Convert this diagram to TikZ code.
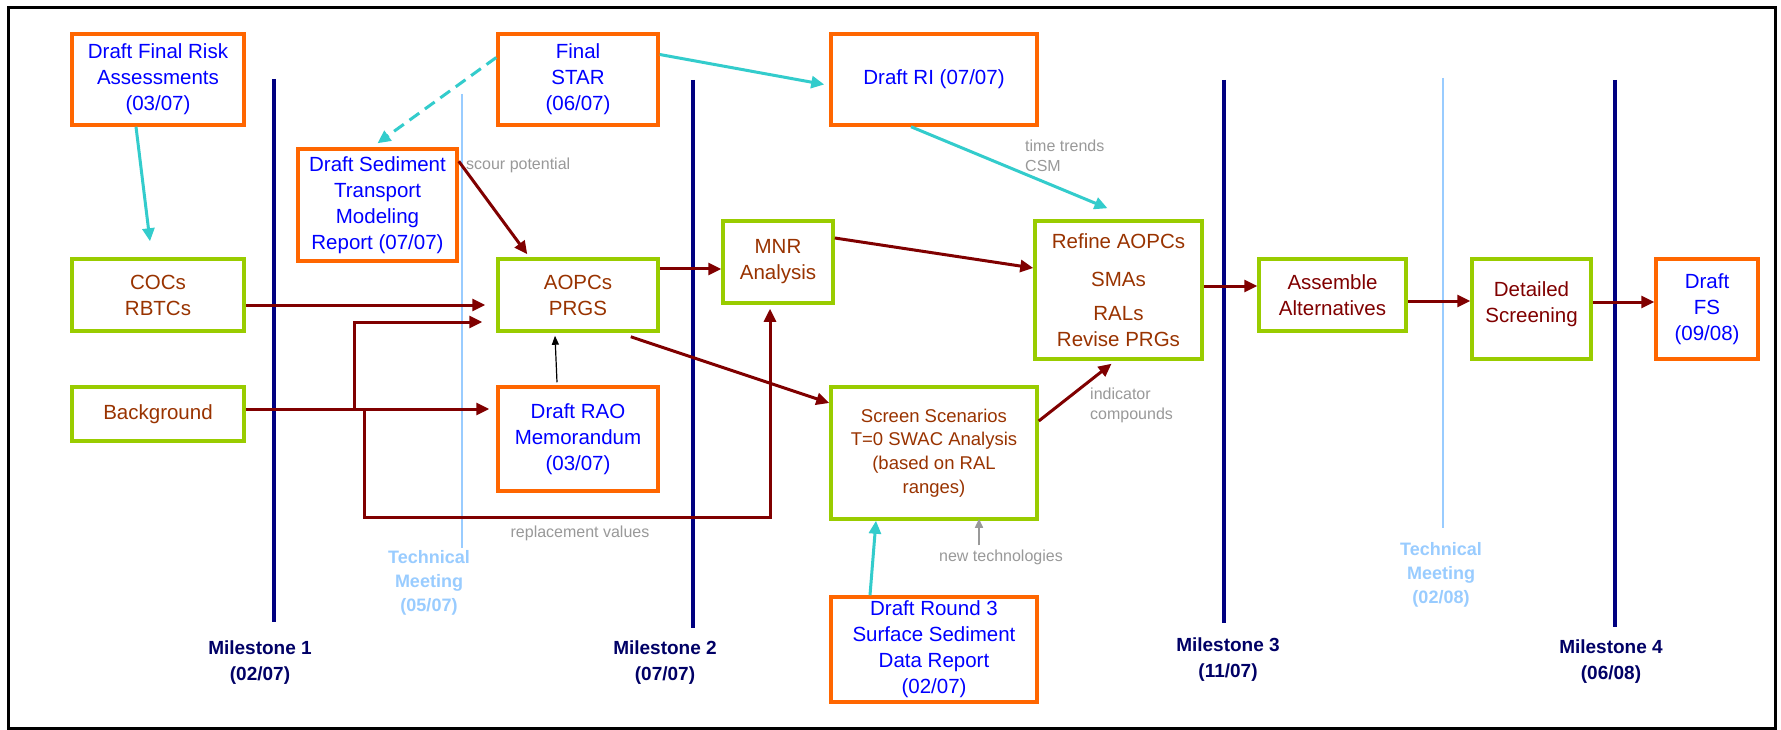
\documentclass[tikz,border=0pt]{standalone}
\usepackage{fontspec}
\setmainfont{Liberation Sans}
\usetikzlibrary{arrows.meta,calc}
\definecolor{orangeb}{HTML}{FF6600}
\definecolor{greenb}{HTML}{99CC00}
\definecolor{bluet}{HTML}{0000FF}
\definecolor{brownt}{HTML}{993300}
\definecolor{darkred}{HTML}{800000}
\definecolor{cyanl}{HTML}{33CCCC}
\definecolor{navyl}{HTML}{000080}
\definecolor{navyt}{HTML}{000066}
\definecolor{techc}{HTML}{99CCFF}
\definecolor{grayt}{HTML}{999999}
\begin{document}
\begin{tikzpicture}[x=1pt,y=-1pt,
 doc/.style={draw=orangeb, line width=3.5pt, text=bluet, align=center, inner sep=0pt, font=\fontsize{20.5}{26}\selectfont},
 task/.style={draw=greenb, line width=3.5pt, text=brownt, align=center, inner sep=0pt, font=\fontsize{20.5}{26}\selectfont},
 flow/.style={draw=darkred, line width=3pt, -{Triangle[length=13pt,width=12pt]}},
 link/.style={draw=cyanl, line width=3pt, -{Triangle[length=13pt,width=12pt]}},
 thin/.style={draw=black, line width=1.2pt, -{Triangle[length=9pt,width=7pt]}},
 grayarrow/.style={draw=grayt, line width=1.5pt, -{Triangle[length=9pt,width=8pt]}},
 mline/.style={draw=navyl, line width=3.5pt},
 tline/.style={draw=techc, line width=1.3pt},
 mlabel/.style={text=navyt, font=\bfseries\fontsize{19}{26}\selectfont, align=center},
 tlabel/.style={text=techc, font=\bfseries\fontsize{18}{23.7}\selectfont, align=center},
 note/.style={text=grayt, font=\fontsize{16}{20}\selectfont, align=left, inner sep=0pt},
]
\useasboundingbox (0,0) rectangle (1781,730);
\fill[white] (0,0) rectangle (1781,730);
\draw[line width=3pt] (8,8) rectangle (1775,728);

% timeline lines
\draw[mline] (274,79) -- (274,622);
\draw[tline] (462,94) -- (462,548);
\draw[mline] (693,80) -- (693,628);
\draw[mline] (1224,80) -- (1224,623);
\draw[tline] (1443,78) -- (1443,528);
\draw[mline] (1615,80) -- (1615,627);

% timeline labels
\node[mlabel] (ms1) at (260,663) {Milestone 1\\(02/07)};
\node[mlabel] (ms2) at (665,663) {Milestone 2\\(07/07)};
\node[mlabel] (ms3) at (1228,659.5) {Milestone 3\\(11/07)};
\node[mlabel] (ms4) at (1611,662) {Milestone 4\\(06/08)};
\node[tlabel] (tm1) at (429,583) {Technical\\Meeting\\(05/07)};
\node[tlabel] (tm2) at (1441,575) {Technical\\Meeting\\(02/08)};

% boxes
\node[doc, minimum width=172pt, minimum height=91pt] (risk) at (158,79.5) {Draft Final Risk\\Assessments\\(03/07)};
\node[doc, minimum width=160pt, minimum height=91pt] (star) at (578,79.5) {Final\\STAR\\(06/07)};
\node[doc, minimum width=159pt, minimum height=112pt] (sed) at (377.5,205) {Draft Sediment\\Transport\\Modeling\\Report (07/07)};
\node[task, minimum width=172pt, minimum height=72pt] (cocs) at (158,295) {COCs\\RBTCs};
\node[task, minimum width=160pt, minimum height=72pt] (aopcs) at (578,295) {AOPCs\\PRGS};
\node[doc, minimum width=206pt, minimum height=91pt] (ri) at (934,79.5) {Draft RI (07/07)};
\node[task, minimum width=110pt, minimum height=82pt] (mnr) at (778,262) {MNR\\Analysis};
\node[task, minimum width=167pt, minimum height=138pt] (refine) at (1118.5,290) {Refine AOPCs\\[12pt]SMAs\\[8pt]RALs\\Revise PRGs};
\node[task, text=darkred, minimum width=147pt, minimum height=72pt] (assemble) at (1332.5,295) {Assemble\\Alternatives};
\node[task, text=darkred, minimum width=119pt, minimum height=100pt] (detailed) at (1531.5,309) {Detailed\\Screening\\[-12pt]\mbox{}};
\node[doc, minimum width=102pt, minimum height=100pt] (fs) at (1707,309) {Draft\\FS\\(09/08)};
\node[task, minimum width=172pt, minimum height=54pt] (bg) at (158,414) {Background};
\node[doc, minimum width=160pt, minimum height=104pt] (rao) at (578,439) {Draft RAO\\Memorandum\\(03/07)};
\node[task, font=\fontsize{18.5}{23.7}\selectfont, minimum width=206pt, minimum height=132pt] (screen) at (934,453) {Screen Scenarios\\T=0 SWAC Analysis\\(based on RAL\\ranges)};
\node[doc, minimum width=206pt, minimum height=105pt] (round3) at (934,649.5) {Draft Round 3\\Surface Sediment\\Data Report\\(02/07)};

% notes
\node[note, anchor=west] (scour) at (466,165) {scour potential};
\node[note, anchor=west] (trends) at (1025,156) {time trends\\CSM};
\node[note, anchor=west] (indic) at (1090,405) {indicator\\compounds};
\node[note] (repl) at (580,533) {replacement values};
\node[note] (newtech) at (1001,557) {new technologies};

% junctions
\coordinate (j1) at (354,409);
\coordinate (j2) at (364,409);
\coordinate (j4) at (770,517);

% cyan links
\draw[link] ([xshift=-22pt]risk.south) -- ([xshift=-8pt,yshift=16pt]cocs.north);
\draw[link, dashed, dash pattern=on 12pt off 7pt] ([yshift=22pt]star.west) -- ([yshift=4pt]sed.north);
\draw[link] ([yshift=25pt]star.east) -- ([xshift=-5pt,yshift=-5pt]ri.west);
\draw[link] ([xshift=-23pt]ri.south) -- ([xshift=-11pt,yshift=11pt]refine.north);
\draw[link] ([xshift=-64pt]round3.north) -- ([xshift=-58pt]screen.south);

% dark red flows
\draw[flow] ([yshift=-14pt]sed.north east) -- ([xshift=31pt,yshift=3pt]aopcs.north west);
\draw[flow] ([yshift=-10pt]cocs.east) -- ([xshift=-11pt,yshift=-10pt]aopcs.west);
\draw[flow] ([yshift=5pt]bg.east) -- ([xshift=-7pt,yshift=30pt]rao.west);
\draw[flow] (j1) |- ([xshift=-14pt,yshift=-27pt]aopcs.west);
\draw[flow] (j2) |- (j4) -- ([xshift=-8pt,yshift=-4pt]mnr.south);
\draw[flow] ([yshift=26pt]aopcs.east) -- ([yshift=-7pt]mnr.west);
\draw[flow] ([xshift=-29pt,yshift=-4pt]aopcs.south east) -- ([yshift=50pt]screen.west);
\draw[flow] ([yshift=24pt]mnr.east) -- ([yshift=22pt]refine.west);
\draw[flow] ([yshift=32pt]screen.east) -- ([xshift=-7pt,yshift=-3pt]refine.south);
\draw[flow] ([yshift=4pt]refine.east) -- ([yshift=9pt]assemble.west);
\draw[flow] ([yshift=-6pt]assemble.east) -- ([yshift=8pt]detailed.west);
\draw[flow] ([yshift=7pt]detailed.east) -- ([yshift=7pt]fs.west);

% thin arrows
\draw[thin] ([xshift=-21pt,yshift=3pt]rao.north) -- ([xshift=-23pt,yshift=-3pt]aopcs.south);
\draw[grayarrow] ([xshift=-22pt,yshift=4pt]newtech.north) -- ([xshift=45pt,yshift=2pt]screen.south);
\end{tikzpicture}
\end{document}
